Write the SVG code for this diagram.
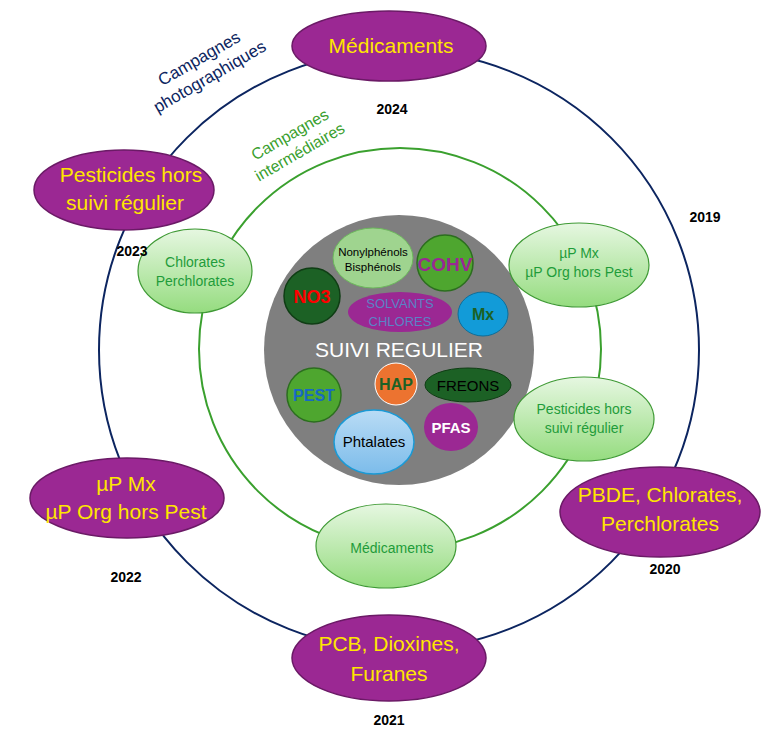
<svg xmlns="http://www.w3.org/2000/svg" width="770" height="743" viewBox="0 0 770 743">
<defs>
<linearGradient id="g" x1="0" y1="0" x2="0" y2="1"><stop offset="0" stop-color="#e6f7e1"/><stop offset="1" stop-color="#95dc7f"/></linearGradient>
<linearGradient id="b" x1="0" y1="0" x2="0" y2="1"><stop offset="0" stop-color="#b9dcf5"/><stop offset="1" stop-color="#7cbcea"/></linearGradient>
<style>
text{font-family:"Liberation Sans",Arial,sans-serif;text-anchor:middle}
.p{fill:#9b2893;stroke:#6b1a66;stroke-width:1.5}
.pt{fill:#ffe600;font-size:21px}
.g{fill:url(#g);stroke:#3f9a35;stroke-width:1.2}
.gt{fill:#1f9c3a;font-size:14px}
.y{font-size:14px;font-weight:bold;fill:#000}
</style>
</defs>
<g id="connectors">
<circle cx="399" cy="350" r="300" fill="none" stroke="#0c2560" stroke-width="2"/>
<circle cx="400" cy="349" r="201" fill="none" stroke="#3aa02e" stroke-width="2"/>
</g>
<g id="center"><circle cx="399" cy="350" r="135" fill="#7f7f7f"/><text x="399" y="357" font-size="21" fill="#fff">SUIVI REGULIER</text></g>
<g id="nonyl"><ellipse cx="373" cy="258" rx="40" ry="30" fill="#9fd48f" stroke="#6cb85c"/><text x="373" y="256" font-size="11.5">Nonylphénols</text><text x="373" y="271" font-size="11.5">Bisphénols</text></g>
<g id="cohv"><circle cx="445" cy="263" r="28" fill="#4ea62f" stroke="#2c6e1f" stroke-width="1.5"/><text x="445" y="271" font-size="19" font-weight="bold" fill="#9b2893">COHV</text></g>
<g id="no3"><circle cx="312" cy="296" r="28" fill="#1c6125" stroke="#0f3d14" stroke-width="1.5"/><text x="312" y="303" font-size="18" font-weight="bold" fill="#ff0000">NO3</text></g>
<g id="solv"><ellipse cx="400" cy="312" rx="52" ry="20" fill="#9b2893"/><text x="400" y="308" font-size="13" fill="#5a83c6">SOLVANTS</text><text x="400" y="326" font-size="13" fill="#5a83c6">CHLORES</text></g>
<g id="mx"><ellipse cx="483" cy="314" rx="25" ry="22" fill="#129bd8" stroke="#0c6e9a"/><text x="483" y="320" font-size="16" font-weight="bold" fill="#1c6125">Mx</text></g>
<g id="pest"><circle cx="314" cy="395" r="27" fill="#4ea62f" stroke="#2c6e1f" stroke-width="1.5"/><text x="314" y="401" font-size="16" font-weight="bold" fill="#1769c4">PEST</text></g>
<g id="hap"><circle cx="396" cy="384" r="21" fill="#ec7330" stroke="#fff"/><text x="396" y="390" font-size="16" font-weight="bold" fill="#1c6125">HAP</text></g>
<g id="freons"><ellipse cx="468" cy="385" rx="43" ry="17" fill="#1c6125" stroke="#0f3d14"/><text x="468" y="391" font-size="15" fill="#000">FREONS</text></g>
<g id="pfas"><ellipse cx="451" cy="427" rx="27" ry="24" fill="#9b2893"/><text x="451" y="433" font-size="15" font-weight="bold" fill="#fff">PFAS</text></g>
<g id="phtal"><ellipse cx="374" cy="442" rx="40" ry="32" fill="url(#b)" stroke="#1a9ad6" stroke-width="1.5"/><text x="374" y="447" font-size="15" fill="#000">Phtalates</text></g>
<g id="gi1"><ellipse class="g" cx="195" cy="271" rx="57" ry="42"/><text class="gt" x="195" y="267">Chlorates</text><text class="gt" x="195" y="286">Perchlorates</text></g>
<g id="gi2"><ellipse class="g" cx="579" cy="265" rx="70" ry="42"/><text class="gt" x="579" y="258">µP Mx</text><text class="gt" x="579" y="277">µP Org hors Pest</text></g>
<g id="gi3"><ellipse class="g" cx="584" cy="419" rx="70" ry="42"/><text class="gt" x="584" y="414">Pesticides hors</text><text class="gt" x="584" y="433">suivi régulier</text></g>
<g id="gi4"><ellipse class="g" cx="386" cy="546" rx="70" ry="42"/><text class="gt" x="392" y="553">Médicaments</text></g>
<g id="p1"><ellipse class="p" cx="389" cy="46" rx="97" ry="35"/><text class="pt" x="391" y="53">Médicaments</text></g>
<g id="p2"><ellipse class="p" cx="124" cy="190" rx="90" ry="40"/><text class="pt" x="131" y="182">Pesticides hors</text><text class="pt" x="125" y="210">suivi régulier</text></g>
<g id="p3"><ellipse class="p" cx="127" cy="498" rx="97" ry="40"/><text class="pt" x="126" y="491">µP Mx</text><text class="pt" x="126" y="519">µP Org hors Pest</text></g>
<g id="p4"><ellipse class="p" cx="660" cy="512" rx="100" ry="45"/><text class="pt" x="660" y="502">PBDE, Chlorates,</text><text class="pt" x="660" y="531">Perchlorates</text></g>
<g id="p5"><ellipse class="p" cx="389" cy="658" rx="97" ry="43"/><text class="pt" x="389" y="651">PCB, Dioxines,</text><text class="pt" x="389" y="681">Furanes</text></g>
<g id="labels">
<text transform="translate(207,72) rotate(-30)" font-size="17" fill="#0c2560"><tspan x="0" y="-10">Campagnes</tspan><tspan x="0" y="11">photographiques</tspan></text>
<text transform="translate(297,147) rotate(-30)" font-size="16" fill="#3aa02e"><tspan x="0" y="-9">Campagnes</tspan><tspan x="0" y="11">intermédiaires</tspan></text>
<text class="y" x="392" y="114">2024</text><text class="y" x="705" y="222">2019</text><text class="y" x="132" y="256">2023</text><text class="y" x="126" y="582">2022</text><text class="y" x="665" y="574">2020</text><text class="y" x="389" y="725">2021</text>
</g>
</svg>
